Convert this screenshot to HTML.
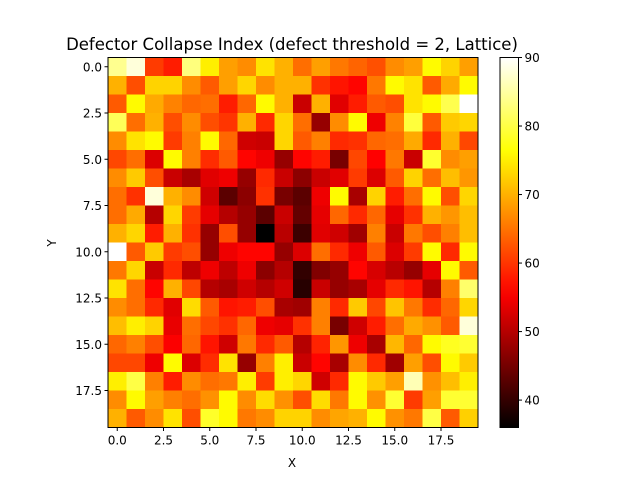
<!DOCTYPE html>
<html><head><meta charset="utf-8"><style>
body{margin:0;background:#fff;font-family:"Liberation Sans","DejaVu Sans",sans-serif}
</style></head><body>
<svg id="chart" width="640" height="480" xmlns="http://www.w3.org/2000/svg" font-family="'DejaVu Sans','Liberation Sans',sans-serif">
<rect width="640" height="480" fill="#fff"/>
<text x="292" y="50" text-anchor="middle" font-size="16.5">Defector Collapse Index (defect threshold = 2, Lattice)</text>
<g id="cells"></g>
<g id="axes"></g>
<text x="292" y="467" text-anchor="middle" font-size="12">X</text>
<text x="56" y="243" text-anchor="middle" font-size="12" transform="rotate(-90 56 243)">Y</text>
<defs><linearGradient id="hotg" x1="0" y1="1" x2="0" y2="0"></linearGradient></defs>
<g id="cbar"></g>
</svg>
<script>
const rows = [
[84,88,60.5,58,83,75,68.5,67,74,70,64.6,68.5,65.4,63.8,62.2,67,68.5,76,72.7,68.5],
[70,62,72.7,72.7,67,63,68.5,73,67,70,70,59.7,57.3,56,65.4,76,74,63,69.4,76],
[63,76,69.4,66.2,64,64.6,58,64,76,70,51.5,70,53.4,58,63,62,74,76,80.5,90],
[81,64.6,70,62,67,62,60,70,59,73,64.6,47.6,67,76,54.5,66.2,79.5,63,72,73],
[67,74,76,60.5,66,76,64,52,51.5,73,63,66,59,59.7,64,64.6,69.4,59,70,61.4],
[61.4,64.6,53,76,66,59.3,63,56,54.5,47.6,56,58,45.3,61.4,55.7,65.4,51.5,78.8,67,68.5],
[67,72,62,51.5,49,53.4,54.5,47.6,59,51.5,46.8,51.5,53.4,60.5,53,63,72.7,64.6,71,67.8],
[64.6,59.7,88,70,67,52,43,46.8,59.7,45.3,43,54.5,76,49,72.7,58,64.6,76,62,73],
[64.6,69.4,50,73,60.5,53.8,50,47.6,43,51.5,43.7,53.8,64,59,64,53.8,59.7,70,67.8,71],
[70,73,58,70,59.7,47.6,62,47.6,36,50.3,40.6,53.4,52,48.4,66,51.5,65.4,62,66,71],
[90,63,72,60.5,62,47.6,54.5,56,56,47.6,53,64.6,59,54.5,63,53,60.5,76,59,76],
[65.4,73,51.5,59,50.7,54.5,50.7,54.5,46.8,50,39.9,46,47.6,56,52.6,50.3,47.6,53.8,76,63],
[74,64.6,56,70,61.4,50,49,52,50,52,39,51.5,47.6,49,53.8,59,57.3,50,66,82],
[67,64.6,59,53.4,73.5,63,57.3,58,62,49,48.4,66,59,72,61.4,71.5,65.4,59.3,64,73],
[71,75,72.7,54,64.6,61.4,59.7,64,54.5,53.8,59.7,66,45.3,52,58,64.6,69.4,67.4,63,88],
[64,66,62,55.5,64,57.3,52,65.4,59,63,50,58.5,67.8,54.5,49,70.5,64,76,78,79],
[61.4,61.4,54.5,76,53,59.3,74,47.6,66,75,51.5,56,49,67,59,48.4,68.5,62,76,72],
[75,80,66,58,67,64.6,65.4,75,60.5,75,73,52,59,76,72,68.5,86,67.4,71,75],
[67,76,68.5,66,64.6,67.4,76,67,73.5,67.4,62,73.5,65.4,76,67.4,79,60.5,68.5,79,79],
[70,63,67,74,62,78.5,76,65.4,67,72.7,72.7,67,69,70,76,67.4,65.4,80,63,72.5]
];
const xTicks = [0,2.5,5,7.5,10,12.5,15,17.5];
const yTicks = [0,2.5,5,7.5,10,12.5,15,17.5];
const cbTicks = [40,50,60,70,80,90];
const vmin = 36, vmax = 90;
const NS = "http://www.w3.org/2000/svg";
const L=108, T=57.5, CW=18.5, CH=18.5;
const xs = v => L + (v + 0.5) * CW;
const ys = v => T + (v + 0.5) * CH;
function hot(v){
  let t=Math.max(0,Math.min(1,(v-vmin)/(vmax-vmin)));
  let r=Math.min(1,t/0.365), g=Math.max(0,Math.min(1,(t-0.365)/0.381)), b=Math.max(0,Math.min(1,(t-0.746)/0.254));
  return `rgb(${Math.round(r*255)},${Math.round(g*255)},${Math.round(b*255)})`;
}
function mk(tag,attrs,parent){const e=document.createElementNS(NS,tag);for(const k in attrs)e.setAttribute(k,attrs[k]);parent.appendChild(e);return e;}
const cells=document.getElementById('cells');
rows.forEach((row,i)=>row.forEach((v,j)=>{
  const r=mk('rect',{x:xs(j)-CW/2,y:ys(i)-CH/2,width:CW+0.3,height:CH+0.3,fill:hot(v)},cells);
  
  
}));
const ax=document.getElementById('axes');
mk('rect',{x:L,y:T,width:CW*20,height:CH*20,fill:'none',stroke:'#000','stroke-width':1},ax);
const B=T+CH*20;
xTicks.forEach(t=>{
  mk('line',{x1:xs(t),x2:xs(t),y1:B,y2:B+3.5,stroke:'#000'},ax);
  const tx=mk('text',{x:xs(t),y:B+17,'text-anchor':'middle','font-size':12},ax);tx.textContent=t.toFixed(1);
  
  
});
yTicks.forEach(t=>{
  mk('line',{x1:L-3.5,x2:L,y1:ys(t),y2:ys(t),stroke:'#000'},ax);
  const tx=mk('text',{x:L-6,y:ys(t)+4.5,'text-anchor':'end','font-size':12},ax);tx.textContent=t.toFixed(1);
  
  
});
const g=document.getElementById('hotg');
for(let k=0;k<=20;k++){const v=vmin+(vmax-vmin)*k/20;mk('stop',{offset:k/20,'stop-color':hot(v)},g);}
const cb=document.getElementById('cbar');
const CX=500,CWd=18.5,CT=T,CB=B;
mk('rect',{x:CX,y:CT,width:CWd,height:CB-CT,fill:'url(#hotg)',stroke:'#000','stroke-width':1},cb);
const cy=v=>CB-(v-vmin)/(vmax-vmin)*(CB-CT);
cbTicks.forEach(t=>{
  mk('line',{x1:CX+CWd,x2:CX+CWd+3.5,y1:cy(t),y2:cy(t),stroke:'#000'},cb);
  const tx=mk('text',{x:CX+CWd+6,y:cy(t)+4.5,'font-size':12},cb);tx.textContent=t;
  
  
});
</script>
</body></html>
